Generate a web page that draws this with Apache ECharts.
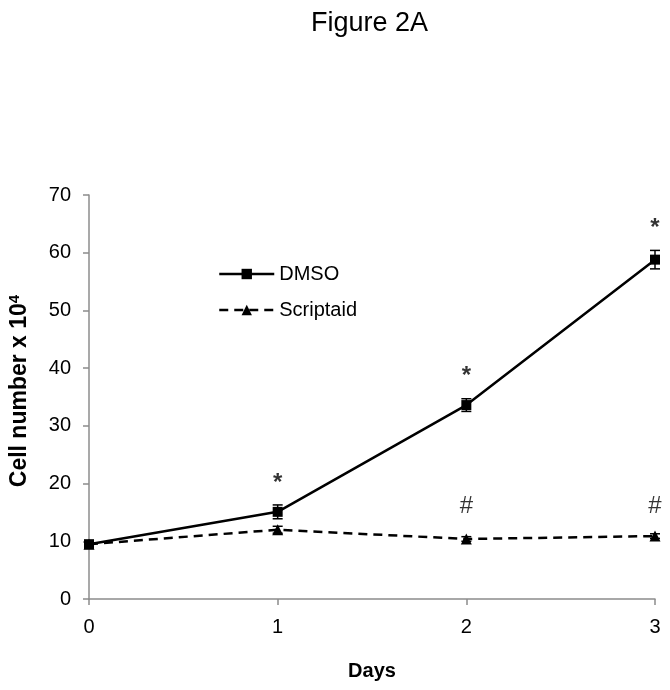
<!DOCTYPE html>
<html><head><meta charset="utf-8">
<script src="https://cdn.jsdelivr.net/npm/echarts@6/dist/echarts.min.js"></script>
<style>html,body{margin:0;padding:0;background:#fff}#c{width:670px;height:690px}</style>
</head><body><div id="c"></div>
<script>
const days = [0, 1, 2, 3];
const dmso = [9.5, 15.1, 33.6, 58.8];
const dmsoErr = [0.5, 1.2, 1.1, 1.6];
const scriptaid = [9.5, 12.0, 10.4, 10.9];
const scriptaidErr = [0.4, 0.6, 0.4, 0.4];
const starDays = [1, 2, 3];
const starY = [20.0, 38.5, 64.3];
const hashDays = [2, 3];
const hashY = [16.0, 16.0];
const yTicks = [0, 70, 10];

const font = '"Liberation Sans", Arial, sans-serif';
function errSeries(vals, errs) {
  return {
    type: 'custom', silent: true, z: 5,
    data: days.map((d, i) => [d, vals[i] - errs[i], vals[i] + errs[i]]),
    renderItem: function (params, api) {
      const lo = api.coord([api.value(0), api.value(1)]);
      const hi = api.coord([api.value(0), api.value(2)]);
      const w = 5;
      const st = { stroke: '#000', lineWidth: 1.5 };
      return { type: 'group', children: [
        { type: 'line', shape: { x1: lo[0], y1: lo[1], x2: hi[0], y2: hi[1] }, style: st },
        { type: 'line', shape: { x1: lo[0] - w, y1: lo[1], x2: lo[0] + w, y2: lo[1] }, style: st },
        { type: 'line', shape: { x1: hi[0] - w, y1: hi[1], x2: hi[0] + w, y2: hi[1] }, style: st }
      ]};
    }
  };
}
function markSeries(xs, ys, txt, weight) {
  return {
    type: 'scatter', symbolSize: 1, itemStyle: { color: 'rgba(0,0,0,0)' }, silent: true,
    data: xs.map((d, i) => [d, ys[i]]),
    label: { show: true, position: 'inside', formatter: txt, color: '#000', fontSize: 24, fontWeight: weight, fontFamily: font }
  };
}
const chart = echarts.init(document.getElementById('c'), null, { renderer: 'canvas' });
chart.setOption({
  animation: false,
  backgroundColor: '#fff',
  title: { text: 'Figure 2A', left: 306, top: 5, textStyle: { fontFamily: font, fontSize: 27, fontWeight: 'normal', color: '#000' } },
  grid: { left: 89, right: 15, top: 195, bottom: 91, outerBoundsMode: 'none', containLabel: false },
  legend: {
    orient: 'vertical', left: 213, top: 259, itemWidth: 55, itemHeight: 13, itemGap: 16,
    textStyle: { fontFamily: font, fontSize: 20, color: '#000' },
    data: [
      { name: 'DMSO', lineStyle: { width: 2.5 } },
      { name: 'Scriptaid', lineStyle: { width: 2.5 } }
    ]
  },
  xAxis: {
    type: 'value', min: 0, max: 3, interval: 1,
    name: 'Days', nameLocation: 'middle', nameGap: 62,
    nameTextStyle: { fontFamily: font, fontSize: 20, fontWeight: 'bold', color: '#000' },
    axisLine: { lineStyle: { color: '#8c8c8c', width: 1.5 } },
    axisTick: { show: true, length: 6, lineStyle: { color: '#8c8c8c', width: 1.5 } },
    axisLabel: { fontFamily: font, fontSize: 20, color: '#000', margin: 18 },
    splitLine: { show: false }
  },
  yAxis: {
    type: 'value', min: yTicks[0], max: yTicks[1], interval: yTicks[2],
    name: 'Cell number x 10{sup|4}', nameLocation: 'middle', nameGap: 57, nameRotate: 90,
    nameTextStyle: { fontFamily: font, fontSize: 23, fontWeight: 'bold', color: '#000', padding: [0, 0, 0, 12],
      rich: { sup: { fontFamily: font, fontSize: 15, fontWeight: 'bold', color: '#000', verticalAlign: 'top', padding: [0, 0, 10, 0] } } },
    axisLine: { show: true, lineStyle: { color: '#8c8c8c', width: 1.5 } },
    axisTick: { show: true, length: 6, lineStyle: { color: '#8c8c8c', width: 1.5 } },
    axisLabel: { fontFamily: font, fontSize: 20, color: '#000', margin: 18 },
    splitLine: { show: false }
  },
  series: [
    { name: 'DMSO', type: 'line', data: days.map((d, i) => [d, dmso[i]]), symbol: 'rect', symbolSize: 10,
      lineStyle: { color: '#000', width: 2.5 }, itemStyle: { color: '#000' }, z: 4 },
    { name: 'Scriptaid', type: 'line', data: days.map((d, i) => [d, scriptaid[i]]), symbol: 'triangle', symbolSize: 11,
      lineStyle: { color: '#000', width: 2.5, type: [9, 6] }, itemStyle: { color: '#000' }, z: 4 },
    errSeries(dmso, dmsoErr),
    errSeries(scriptaid, scriptaidErr),
    markSeries(starDays, starY, '*', 'bold'),
    markSeries(hashDays, hashY, '#', 'normal')
  ]
});
</script></body></html>
